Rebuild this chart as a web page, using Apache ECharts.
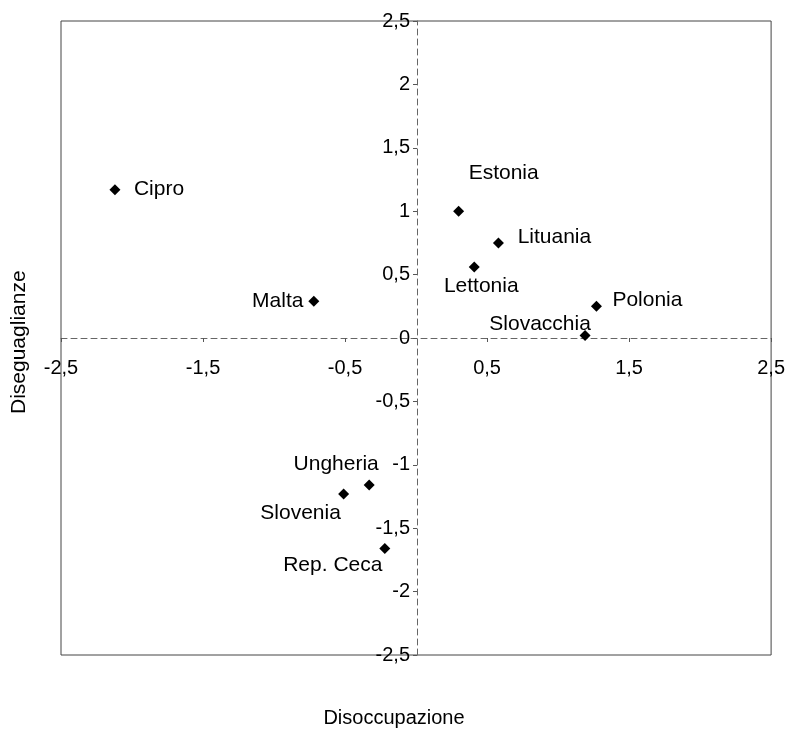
<!DOCTYPE html>
<html>
<head>
<meta charset="utf-8">
<script src="https://cdn.jsdelivr.net/npm/echarts@6/dist/echarts.min.js"></script>
<style>
  html, body { margin: 0; padding: 0; background: #fff; }
  #chart { width: 788px; height: 732px; }
</style>
</head>
<body>
<div id="chart"></div>
<script>
  // paesi e coordinate (disoccupazione, diseguaglianze)
  const paesi = ['Cipro', 'Malta', 'Estonia', 'Lituania', 'Lettonia', 'Polonia', 'Slovacchia', 'Ungheria', 'Slovenia', 'Rep. Ceca'];
  const disoccupazione = [-2.12, -0.72, 0.30, 0.58, 0.41, 1.27, 1.19, -0.33, -0.51, -0.22];
  const diseguaglianze = [1.17, 0.29, 1.0, 0.75, 0.56, 0.25, 0.02, -1.16, -1.23, -1.66];

  // spostamento delle etichette rispetto al punto
  const etichette = {
    'Cipro': [44, 0],
    'Malta': [-36, 0],
    'Estonia': [45, -38],
    'Lituania': [56, -6],
    'Lettonia': [7, 19],
    'Polonia': [51, -6],
    'Slovacchia': [-45, -11],
    'Ungheria': [-33, -21],
    'Slovenia': [-43, 19],
    'Rep. Ceca': [-52, 17],
  };

  const fmt = (v) => String(Math.round(v * 10) / 10).replace('.', ',');
  const font = 'Liberation Sans, Arial, sans-serif';

  const punti = paesi.map((p, i) => ({
    name: p,
    value: [disoccupazione[i], diseguaglianze[i]],
    label: { offset: etichette[p] },
  }));

  // gli assi si incrociano nello zero: spostati verso il centro del riquadro
  const gridL = 61, gridR = 15, gridT = 21, gridB = 77;
  const W = 788, H = 732;
  const offX = -((H - gridB) - (gridT + (H - gridT - gridB) / 2));
  const offY = -((W - gridL - gridR) / 2);

  const myChart = echarts.init(document.getElementById('chart'));
  myChart.setOption({
    animation: false,
    backgroundColor: '#fff',
    grid: {
      left: gridL,
      right: gridR,
      top: gridT,
      bottom: gridB,
      show: true,
      borderColor: '#444',
      borderWidth: 1,
    },
    xAxis: {
      type: 'value',
      position: 'bottom',
      offset: offX,
      min: -2.5,
      max: 2.5,
      interval: 1,
      axisLine: { onZero: false, lineStyle: { color: '#666', type: [6, 4] } },
      axisTick: { show: true, length: 4, lineStyle: { color: '#555' } },
      axisLabel: { formatter: fmt, fontFamily: font, fontSize: 20, color: '#000', margin: 20 },
      splitLine: { show: false },
    },
    yAxis: {
      type: 'value',
      position: 'left',
      offset: offY,
      min: -2.5,
      max: 2.5,
      interval: 0.5,
      axisLine: { onZero: false, lineStyle: { color: '#666', type: [6, 4] } },
      axisTick: { show: true, length: 4, lineStyle: { color: '#555' } },
      axisLabel: { formatter: fmt, fontFamily: font, fontSize: 20, color: '#000', margin: 7 },
      splitLine: { show: false },
    },
    graphic: [
      {
        type: 'text',
        left: 'center',
        top: 708,
        style: { text: 'Disoccupazione', font: '20px ' + font, fill: '#000' },
      },
      {
        type: 'text',
        x: 9,
        y: 414,
        rotation: Math.PI / 2,
        style: { text: 'Diseguaglianze', font: '21px ' + font, fill: '#000' },
      },
    ],
    series: [
      {
        type: 'scatter',
        symbol: 'diamond',
        symbolSize: 11,
        itemStyle: { color: '#000', opacity: 1 },
        label: {
          show: true,
          position: 'inside',
          formatter: '{b}',
          fontFamily: font,
          fontSize: 21,
          color: '#000',
          textBorderWidth: 0,
        },
        data: punti,
      },
    ],
  });
</script>
</body>
</html>
